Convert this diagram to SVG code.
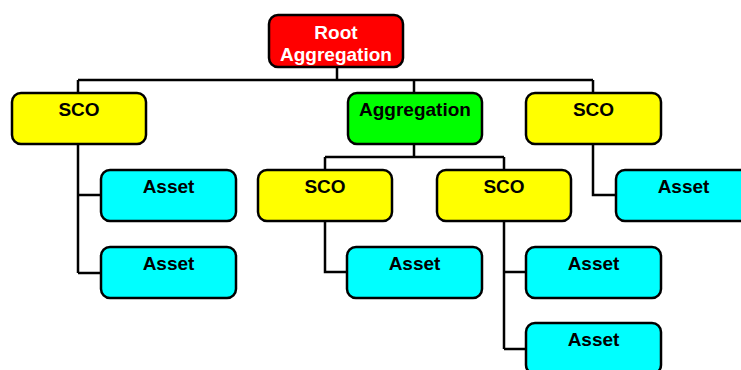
<svg xmlns="http://www.w3.org/2000/svg" width="741" height="370" viewBox="0 0 741 370">
<style>
.box{stroke:#000;stroke-width:2.5}
.root{fill:#FF0000}
.agg{fill:#00FF00}
.sco{fill:#FFFF00}
.asset{fill:#00FFFF}
text{font-family:"Liberation Sans",Arial,sans-serif;font-weight:bold;font-size:19px;text-anchor:middle;fill:#000}
.w{fill:#fff}
#connectors path{fill:none;stroke:#000;stroke-width:2.5}
</style>
<rect width="741" height="370" fill="#fff"/>
<g id="connectors">
<path d="M337 67V80M78 80H593M414 80V93M593 80V93M78 80V93"/>
<path d="M78 144V273M78 195H101M78 273H101"/>
<path d="M414 144V157M325 157H504M325 157V170M504 157V170"/>
<path d="M593 144V195H616"/>
<path d="M325 221V272H347"/>
<path d="M504 221V349M504 272H526M504 349H526"/>
</g>
<g id="root"><rect class="box root" x="269" y="15" width="134" height="52" rx="9"/><text class="w" x="336" y="38.5">Root</text><text class="w" x="336" y="61">Aggregation</text></g>
<g id="sco1"><rect class="box sco" x="12" y="93" width="134" height="51" rx="9"/><text x="79" y="116">SCO</text></g>
<g id="agg"><rect class="box agg" x="348" y="93" width="134" height="51" rx="9"/><text x="415" y="116">Aggregation</text></g>
<g id="sco2"><rect class="box sco" x="526" y="93" width="135" height="51" rx="9"/><text x="593.5" y="116">SCO</text></g>
<g id="asset1"><rect class="box asset" x="101" y="170" width="135" height="51" rx="9"/><text x="168.5" y="193">Asset</text></g>
<g id="asset2"><rect class="box asset" x="101" y="247" width="135" height="51" rx="9"/><text x="168.5" y="270">Asset</text></g>
<g id="sco3"><rect class="box sco" x="258" y="170" width="134" height="51" rx="9"/><text x="325" y="193">SCO</text></g>
<g id="sco4"><rect class="box sco" x="437" y="170" width="134" height="51" rx="9"/><text x="504" y="193">SCO</text></g>
<g id="asset3"><rect class="box asset" x="616" y="170" width="135" height="51" rx="9"/><text x="683.5" y="193">Asset</text></g>
<g id="asset4"><rect class="box asset" x="347" y="247" width="135" height="51" rx="9"/><text x="414.5" y="270">Asset</text></g>
<g id="asset5"><rect class="box asset" x="526" y="247" width="135" height="51" rx="9"/><text x="593.5" y="270">Asset</text></g>
<g id="asset6"><rect class="box asset" x="526" y="323" width="135" height="51" rx="9"/><text x="593.5" y="346">Asset</text></g>
</svg>
